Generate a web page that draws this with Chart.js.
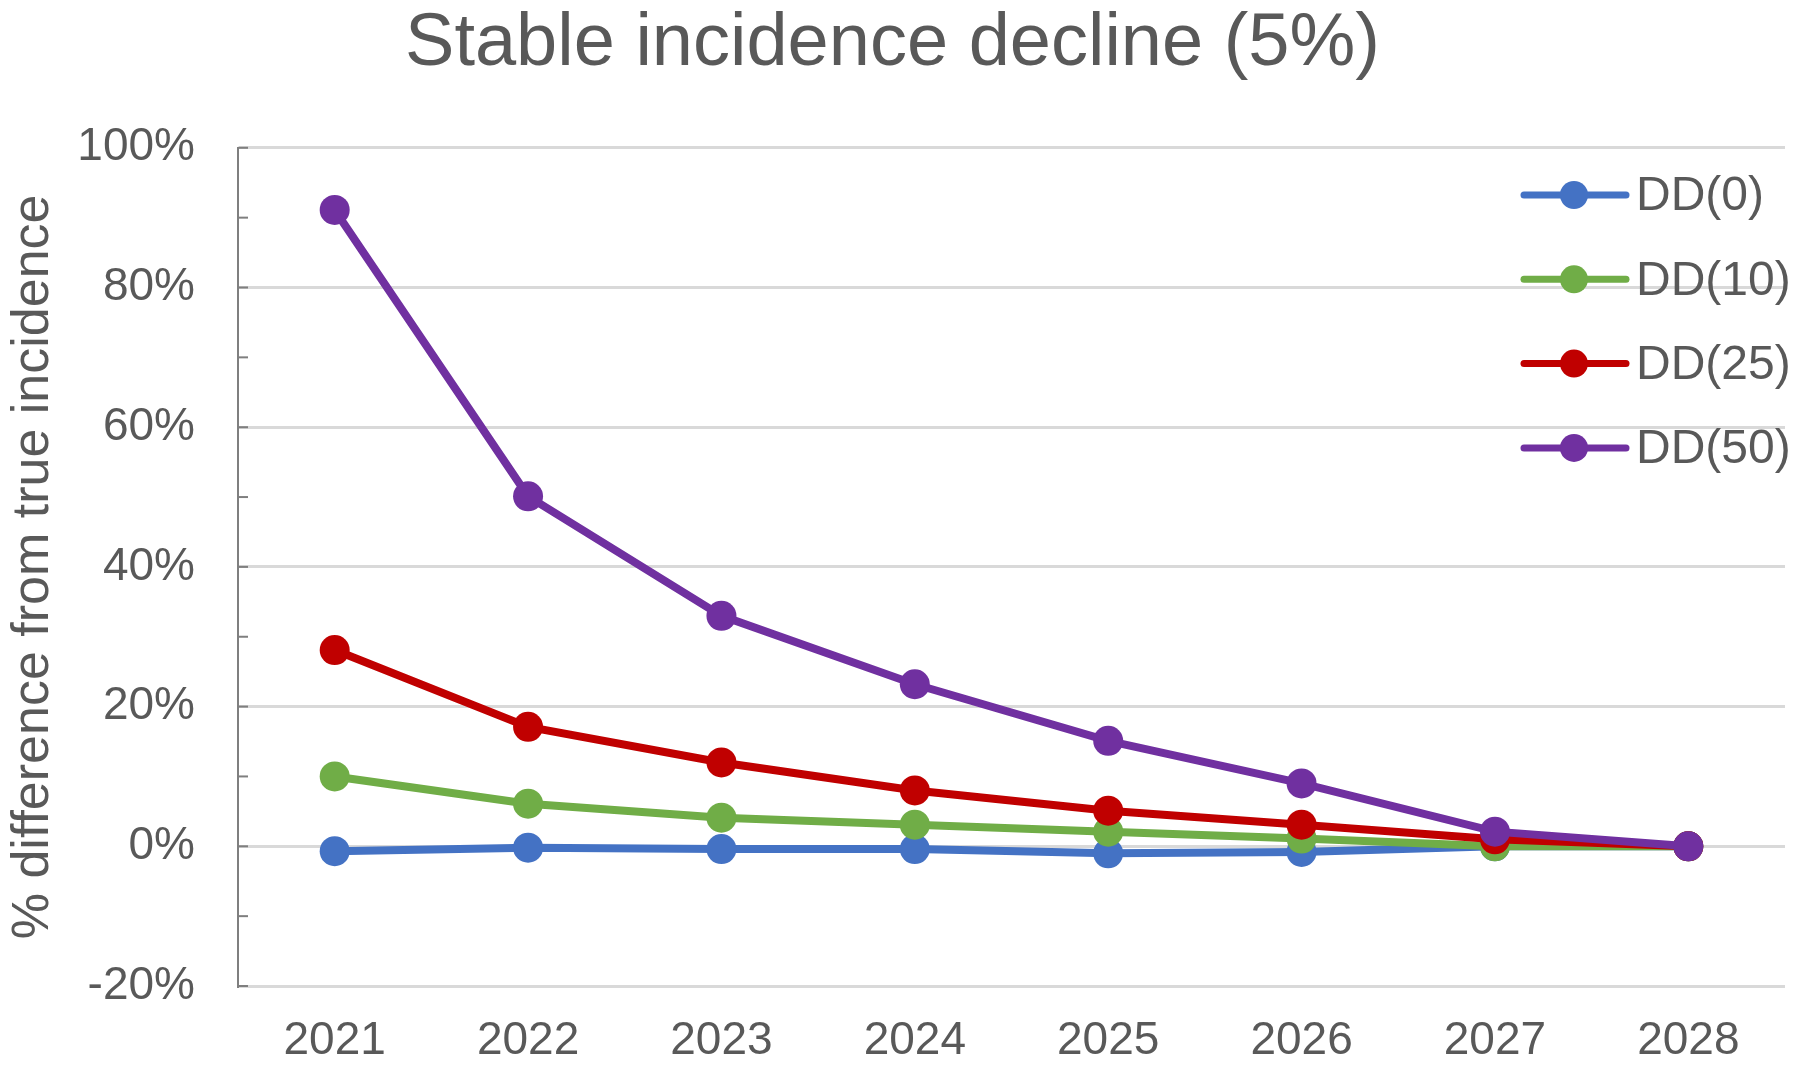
<!DOCTYPE html>
<html>
<head>
<meta charset="utf-8">
<script src="https://cdn.jsdelivr.net/npm/chart.js@4/dist/chart.umd.min.js"></script>
<style>
  body { margin: 0; background: #fff; }
  #wrap { width: 1800px; height: 1073px; }
</style>
</head>
<body>
<div id="wrap"><canvas id="mycanvas"></canvas></div>
<script>
var years = ['2021', '2022', '2023', '2024', '2025', '2026', '2027', '2028'];
var dd0  = [-0.7, -0.2, -0.4, -0.4, -1.0, -0.8, 0.0, 0.0];
var dd10 = [10.0, 6.1, 4.1, 3.1, 2.1, 1.1, 0.0, 0.0];
var dd25 = [28.1, 17.1, 12.0, 8.0, 5.1, 3.1, 1.0, 0.0];
var dd50 = [91.1, 50.1, 33.0, 23.2, 15.1, 9.0, 2.1, 0.0];
var seriesNames = ['DD(0)', 'DD(10)', 'DD(25)', 'DD(50)'];
var seriesColors = ['#4472C4', '#70AD47', '#C00000', '#7030A0'];
var yTicks = [-20, 0, 20, 40, 60, 80, 100];

var textColor = '#595959';
var fontFam = '"Liberation Sans", Arial, sans-serif';

function makeSet(i, vals) {
	return {
		label: seriesNames[i],
		data: vals,
		borderColor: seriesColors[i],
		backgroundColor: seriesColors[i],
		pointBackgroundColor: seriesColors[i],
		pointBorderColor: seriesColors[i],
		borderWidth: 8,
		pointRadius: 15,
		pointBorderWidth: 0,
		fill: false,
		tension: 0,
		order: 3 - i
	};
}

// inside tick marks on the value axis + legend drawn over the plot
var extras = {
	id: 'extras',
	afterDraw: function(chart) {
		var ctx = chart.ctx;
		var ys = chart.scales.y;
		var area = chart.chartArea;
		ctx.save();
		ctx.strokeStyle = '#7f7f7f';
		ctx.lineWidth = 2;
		for (var v = -20; v <= 100; v += 10) {
			var py = ys.getPixelForValue(v);
			ctx.beginPath();
			ctx.moveTo(area.left, py);
			ctx.lineTo(area.left + 10, py);
			ctx.stroke();
		}
		// legend
		ctx.font = '48px ' + fontFam;
		ctx.textBaseline = 'middle';
		ctx.textAlign = 'left';
		for (var i = 0; i < seriesNames.length; i++) {
			var ly = 195 + i * 84.3;
			ctx.strokeStyle = seriesColors[i];
			ctx.lineWidth = 7;
			ctx.lineCap = 'round';
			ctx.beginPath();
			ctx.moveTo(1524, ly);
			ctx.lineTo(1626, ly);
			ctx.stroke();
			ctx.fillStyle = seriesColors[i];
			ctx.beginPath();
			ctx.arc(1574, ly, 14, 0, Math.PI * 2);
			ctx.fill();
			ctx.fillStyle = textColor;
			ctx.fillText(seriesNames[i], 1636, ly + 2);
		}
		ctx.restore();
	}
};

var ctx = document.getElementById('mycanvas');
var chart = new Chart(ctx, {
	type: 'line',
	data: {
		labels: years,
		datasets: [makeSet(0, dd0), makeSet(1, dd10), makeSet(2, dd25), makeSet(3, dd50)]
	},
	options: {
		responsive: true,
		maintainAspectRatio: false,
		animation: false,
		layout: { padding: { left: 0, right: 15, top: 0, bottom: 0 } },
		plugins: {
			legend: { display: false },
			tooltip: { enabled: false },
			title: {
				display: true,
				text: 'Stable incidence decline (5%)',
				color: textColor,
				font: { family: fontFam, size: 74, weight: 'normal' },
				padding: { top: 0, bottom: 59 }
			}
		},
		scales: {
			x: {
				offset: true,
				grid: { display: false, drawTicks: false },
				border: { display: false },
				ticks: {
					color: textColor,
					font: { family: fontFam, size: 46 },
					padding: 28,
					maxRotation: 0
				},
				afterFit: function(s) { s.height = 87; }
			},
			y: {
				min: -20,
				max: 100,
				afterBuildTicks: function(s) {
					s.ticks = yTicks.map(function(v) { return { value: v }; });
				},
				grid: { color: '#d9d9d9', lineWidth: 3, drawTicks: false },
				border: { display: true, color: '#7f7f7f', width: 2 },
				ticks: {
					color: textColor,
					font: { family: fontFam, size: 46 },
					padding: 43,
					callback: function(v) { return v + '%'; }
				},
				title: {
					display: true,
					text: '% difference from true incidence',
					color: textColor,
					font: { family: fontFam, size: 52 },
					padding: { top: 2, bottom: 0 }
				},
				afterFit: function(s) { s.width = 238; }
			}
		}
	},
	plugins: [extras]
});
</script>
</body>
</html>
